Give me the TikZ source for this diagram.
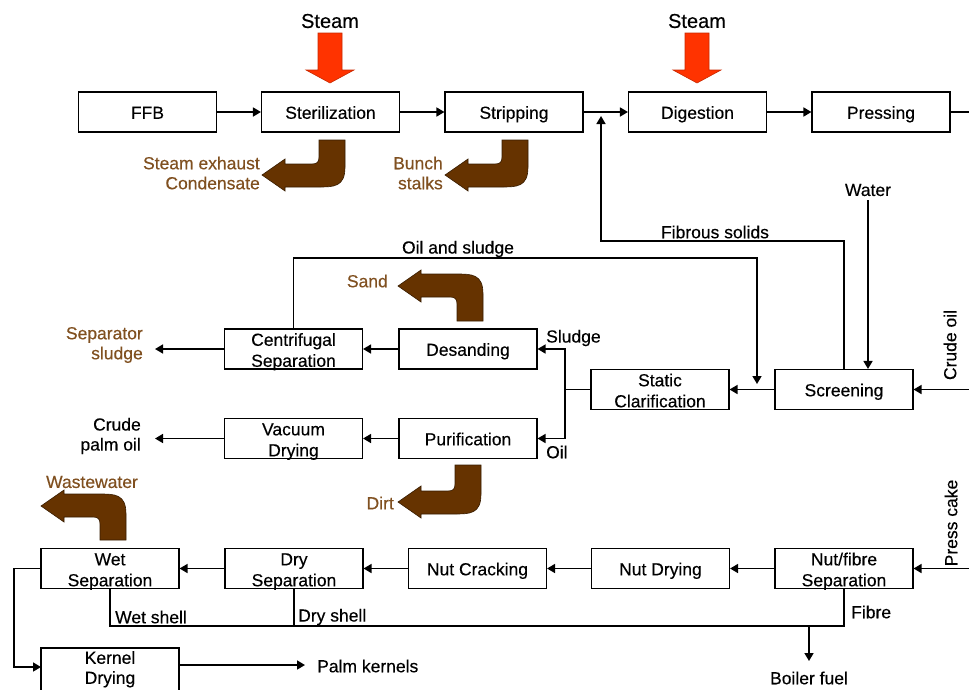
\documentclass[tikz,border=0pt]{standalone}
\usepackage{fontspec}
\setmainfont{Liberation Sans}[FakeBold=0.35]
\usetikzlibrary{arrows.meta}
\definecolor{brownfill}{RGB}{102,51,0}
\definecolor{brownline}{RGB}{55,28,0}
\definecolor{browntext}{RGB}{128,80,32}
\definecolor{steamred}{RGB}{255,51,0}
\definecolor{steamline}{RGB}{200,40,0}
\newcommand\brownDL[4]{%
  \fill[brownfill, draw=brownline, line width=0.6pt]
  ({#1-13},#2) -- ({#1+13},#2) -- ({#1+13},{#4-8})
  .. controls ({#1+13},{#4+12}) and ({#1+2},{#4+12}) .. ({#1-14},{#4+12})
  -- ({#3+23},{#4+12}) -- ({#3+23},{#4+16}) -- (#3,#4) -- ({#3+23},{#4-16})
  -- ({#3+23},{#4-11}) -- ({#1-20},{#4-11})
  .. controls ({#1-15},{#4-11}) and ({#1-13},{#4-13}) .. ({#1-13},{#4-18}) -- cycle;}
\newcommand\brownUL[4]{%
  \fill[brownfill, draw=brownline, line width=0.6pt]
  ({#1-13},#2) -- ({#1+13},#2) -- ({#1+13},{#4+8})
  .. controls ({#1+13},{#4-12}) and ({#1+2},{#4-12}) .. ({#1-14},{#4-12})
  -- ({#3+23},{#4-12}) -- ({#3+23},{#4-16}) -- (#3,#4) -- ({#3+23},{#4+16})
  -- ({#3+23},{#4+11}) -- ({#1-20},{#4+11})
  .. controls ({#1-15},{#4+11}) and ({#1-13},{#4+13}) .. ({#1-13},{#4+18}) -- cycle;}
\newcommand\steamarrow[1]{%
  \fill[steamred, draw=steamline, line width=0.6pt]
  ({#1-12},33) -- ({#1+12},33) -- ({#1+12},70) -- ({#1+24},70) -- (#1,83)
  -- ({#1-24},70) -- ({#1-12},70) -- cycle;}
\newcommand\procbox[4]{%
  \node[box] (#1) at (#2,#3) {};
  \node[boxtxt] (#1-t) at ([yshift=-0.5pt]#1.center) {#4};}
\newcommand\procboxii[5]{%
  \node[box] (#1) at (#2,#3) {};
  \node[boxtxt] (#1-ta) at ([yshift=9.5pt]#1.center) {#4};
  \node[boxtxt] (#1-tb) at ([yshift=-11.5pt]#1.center) {#5};}
\begin{document}
\begin{tikzpicture}[x=1pt,y=-1pt,
  box/.style={draw, line width=1.1pt, minimum width=138pt, minimum height=40pt,
    inner sep=0pt},
  boxtxt/.style={inner sep=0pt, font=\fontsize{17.5}{20}\selectfont,
    text height=12.6pt, text depth=0pt},
  lbl/.style={font=\fontsize{17.5}{20}\selectfont, inner sep=0pt},
  blbl/.style={lbl, text=browntext},
  conn/.style={line width=1.6pt, -{Triangle[length=8pt,width=9pt]}},
  plainline/.style={line width=1.6pt}]
\useasboundingbox (0,0) rectangle (969,689);
% top row
\procbox{ffb}{147.5}{112}{FFB}
\procbox{ster}{330.5}{112}{Sterilization}
\procbox{strip}{514}{112}{Stripping}
\procbox{dig}{697.5}{112}{Digestion}
\procbox{press}{881}{112}{Pressing}
% middle
\procboxii{centri}{293.5}{349}{Centrifugal}{Separation}
\procbox{desand}{468}{349}{Desanding}
\procboxii{static}{660}{389.5}{Static}{Clarification}
\procbox{screen}{844}{389.5}{Screening}
\procboxii{vac}{293.5}{438.5}{Vacuum}{Drying}
\procbox{purif}{468}{438.5}{Purification}
% bottom
\procboxii{wet}{110}{568.5}{Wet}{Separation}
\procboxii{dry}{294}{568.5}{Dry}{Separation}
\procbox{crack}{477.5}{568.5}{Nut Cracking}
\procbox{ndry}{660.5}{568.5}{Nut Drying}
\procboxii{nf}{844}{568.5}{Nut/fibre}{Separation}
\node[box, minimum height=46pt] (kern) at (110,671) {};
\node[boxtxt] (kern-ta) at (110,657.5) {Kernel};
\node[boxtxt] (kern-tb) at (110,677.5) {Drying};
% steam
\steamarrow{330}
\steamarrow{697}
\node[lbl, font=\fontsize{20}{22}\selectfont] (steam1) at (330,21) {Steam};
\node[lbl, font=\fontsize{20}{22}\selectfont] (steam2) at (697,21) {Steam};
% top connectors
\draw[conn] (ffb) -- (ster);
\draw[conn] (ster) -- (strip);
\draw[conn] (strip) -- (dig);
\draw[conn] (dig) -- (press);
\coordinate (pout) at (972,112);
\draw[plainline] (press.east) -- (pout);
% brown arrows
\brownDL{332}{140}{262}{175}
\brownDL{515}{140}{445}{175}
\brownUL{470}{321}{398}{286}
\brownDL{468}{465}{398}{502}
\brownUL{113}{540}{41}{506}
\node[blbl, anchor=east, align=right] (exh) at (260,173) {Steam exhaust\\Condensate};
\node[blbl, anchor=east, align=right] (bunch) at (443,173) {Bunch\\stalks};
\node[blbl, anchor=east] (sand) at (388,281) {Sand};
\node[blbl, anchor=east] (dirt) at (394,503) {Dirt};
\node[blbl] (waste) at (92,482) {Wastewater};
\node[blbl, anchor=east, align=right] (sepsl) at (143,345) {Separator\\sludge};
% crude oil
\coordinate (crin) at (972,389.5);
\draw[conn] (crin) -- (screen.east);
\node[lbl, rotate=90] (crudelbl) at (950,345) {Crude oil};
\draw[conn] (screen) -- (static);
% water
\node[lbl] (water) at (868,190) {Water};
\draw[conn] ([yshift=-4pt]water.south) -- (water.south |- screen.north);
% fibrous solids
\coordinate (fs1) at (844,241);
\coordinate (fs2) at (601,241);
\coordinate (fs3) at (601,116);
\draw[conn] (screen.north) -- (fs1) -- (fs2) -- (fs3);
\node[lbl] (fslbl) at (715,232) {Fibrous solids};
% oil and sludge
\coordinate (os1) at (293.5,258);
\coordinate (os2) at (757,258);
\coordinate (os3) at (757,384);
\draw[conn] (centri.north) -- (os1) -- (os2) -- (os3);
\node[lbl] (oslbl) at (458,249) {Oil and sludge};
% split
\coordinate (sp) at (565,389.5);
\draw[plainline] (static.west) -- (sp);
\draw[conn] (sp) |- (desand.east);
\draw[conn] (sp) |- (purif.east);
\node[lbl, anchor=west] (sludgelbl) at (546,338) {Sludge};
\node[lbl, anchor=west] (oillbl) at (546,452) {Oil};
\draw[conn] (desand) -- (centri);
\draw[conn] (purif) -- (vac);
\coordinate (sepout) at (155,349);
\draw[conn] (centri.west) -- (sepout);
\coordinate (cpoout) at (155,438.5);
\draw[conn] (vac.west) -- (cpoout);
\node[lbl, anchor=east, align=right] (cpo) at (141,436) {Crude\\palm oil};
% press cake
\coordinate (pcin) at (972,568.5);
\draw[conn] (pcin) -- (nf.east);
\node[lbl, rotate=90] (pclbl) at (951,523) {Press cake};
\draw[conn] (nf) -- (ndry);
\draw[conn] (ndry) -- (crack);
\draw[conn] (crack) -- (dry);
\draw[conn] (dry) -- (wet);
% wet to kernel
\coordinate (wk1) at (14,568.5);
\coordinate (wk2) at (14,667);
\coordinate (wk3) at (41,667);
\draw[conn] (wet.west) -- (wk1) -- (wk2) -- (wk3);
\coordinate (pk1) at (179,665);
\coordinate (pk) at (305,665);
\draw[conn] (pk1) -- (pk);
\node[lbl, anchor=west] (pklbl) at (317,666) {Palm kernels};
% shells and fibre
\coordinate (sh1) at (110,626);
\coordinate (sh2) at (844,626);
\coordinate (sh3) at (294,626);
\coordinate (bf1) at (809,626);
\coordinate (bf2) at (809,661);
\draw[plainline] (wet.south) -- (sh1) -- (sh2) -- (nf.south);
\draw[plainline] (dry.south) -- (sh3);
\draw[conn] (bf1) -- (bf2);
\node[lbl] (bflbl) at (809,678) {Boiler fuel};
\node[lbl, anchor=west] (wslbl) at (115,617) {Wet shell};
\node[lbl, anchor=west] (dslbl) at (298,617) {Dry shell};
\node[lbl, anchor=west] (fblbl) at (851,612) {Fibre};
\end{tikzpicture}
\end{document}
